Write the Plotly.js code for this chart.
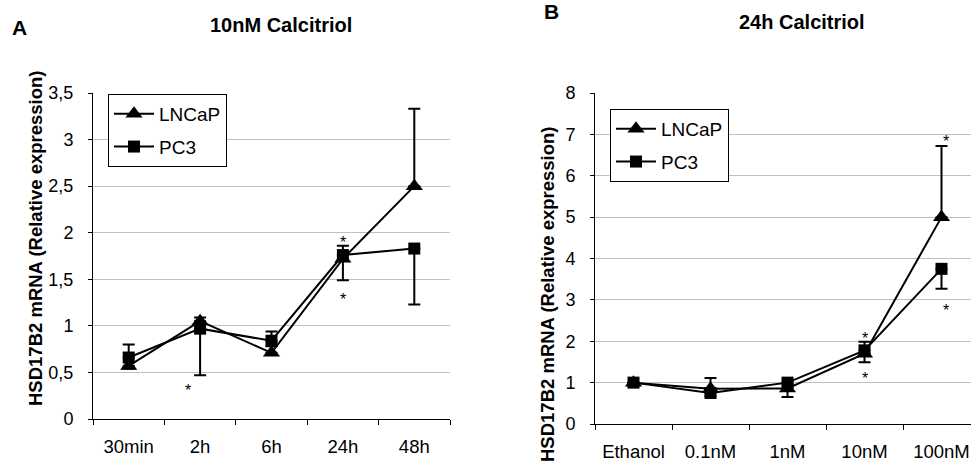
<!DOCTYPE html>
<html>
<head>
<meta charset="utf-8">
<script src="https://cdn.plot.ly/plotly-3.0.1.min.js"></script>
<style>
  html, body { margin: 0; padding: 0; overflow: hidden; background: #fff; }
  #chart { width: 990px; height: 465px; }
</style>
</head>
<body>
<div id="chart"></div>
<script>
// ---- Data ----
const categoriesA = ['30min', '2h', '6h', '24h', '48h'];
const lncapA = [0.57, 1.05, 0.71, 1.72, 2.50];
const lncapA_errPlus = [0.23, 0.04, 0.23, 0.14, 0.83];
const pc3A = [0.66, 0.97, 0.84, 1.76, 1.83];
const pc3A_errMinus = [0.12, 0.50, 0.06, 0.27, 0.60];

const categoriesB = ['Ethanol', '0.1nM', '1nM', '10nM', '100nM'];
const lncapB = [1.00, 0.85, 0.86, 1.70, 5.00];
const lncapB_errPlus = [0.00, 0.26, 0.10, 0.29, 1.72];
const pc3B = [1.00, 0.75, 1.00, 1.78, 3.75];
const pc3B_errMinus = [0.00, 0.08, 0.35, 0.29, 0.48];

// significance asterisks: category, y value
const starsA_cat = ['2h', '24h', '24h'];
const starsA_y = [0.35, 1.94, 1.33];
const starsA_shift = [-12, 0, 0];
const starsB_cat = ['10nM', '10nM', '100nM', '100nM'];
const starsB_y = [2.16, 1.19, 6.93, 2.84];
const starsB_shift = [0, 0, 4, 4];

const panelTitles = ['10nM Calcitriol', '24h Calcitriol'];
const panelLetters = ['A', 'B'];
const yTitle = 'HSD17B2 mRNA (Relative expression)';
const seriesNames = ['LNCaP', 'PC3'];

// ---- Figure ----
const W = 990, H = 465;
const px = v => v / W;
const py = v => (H - v) / H;

const FONT = 'Arial, "Liberation Sans", sans-serif';

function lineTrace(name, cats, vals, err, plus, symbol, size, xa, ya, leg, grp) {
  return {
    type: 'scatter', mode: 'lines+markers', name: name,
    x: cats, y: vals, xaxis: xa, yaxis: ya, legend: leg, legendgroup: grp,
    line: { color: '#000', width: 2 },
    marker: { color: '#000', symbol: symbol, size: size },
    error_y: plus
      ? { type: 'data', symmetric: false, array: err, arrayminus: err.map(() => 0), color: '#000', thickness: 2, width: 6 }
      : { type: 'data', symmetric: false, array: err.map(() => 0), arrayminus: err, color: '#000', thickness: 2, width: 6 },
    hoverinfo: 'x+y+name'
  };
}

const data = [
  lineTrace(seriesNames[0], categoriesA, lncapA, lncapA_errPlus, true, 'triangle-up', 15, 'x', 'y', 'legend', 'a1'),
  lineTrace(seriesNames[1], categoriesA, pc3A, pc3A_errMinus, false, 'square', 12, 'x', 'y', 'legend', 'a2'),
  lineTrace(seriesNames[0], categoriesB, lncapB, lncapB_errPlus, true, 'triangle-up', 15, 'x2', 'y2', 'legend2', 'b1'),
  lineTrace(seriesNames[1], categoriesB, pc3B, pc3B_errMinus, false, 'square', 12, 'x2', 'y2', 'legend2', 'b2')
];

const xBase = {
  type: 'category', tickson: 'boundaries', ticks: 'outside', ticklen: 5, tickwidth: 1, tickcolor: '#000',
  showline: true, linecolor: '#000', linewidth: 1, showgrid: false, zeroline: false,
  tickfont: { family: FONT, size: 18.5, color: '#000' }, ticklabelstandoff: 11,
  range: [-0.5, 4.5], automargin: false, fixedrange: true
};
const yBase = {
  ticks: 'outside', ticklen: 4, tickwidth: 1, tickcolor: '#000',
  showline: true, linecolor: '#000', linewidth: 1, showgrid: true, gridcolor: '#c0c0c0', gridwidth: 1,
  zeroline: false, tickfont: { family: FONT, size: 18, color: '#000' }, ticklabelstandoff: 11,
  automargin: false, fixedrange: true
};

const legendBase = {
  xanchor: 'left', yanchor: 'top', bordercolor: '#000', borderwidth: 1, bgcolor: '#fff',
  font: { family: FONT, size: 19, color: '#000' }, traceorder: 'grouped', tracegroupgap: 5,
  itemwidth: 40
};

const annotations = [];
function addText(text, x, y, size, bold, extra) {
  annotations.push(Object.assign({
    text: bold ? '<b>' + text + '</b>' : text, xref: 'paper', yref: 'paper',
    x: px(x), y: py(y), xanchor: 'center', yanchor: 'middle', showarrow: false,
    font: { family: FONT, size: size, color: '#000' }
  }, extra || {}));
}
addText(panelLetters[0], 19.5, 27, 21, true);
addText(panelLetters[1], 551.5, 11, 21, true);
addText(panelTitles[0], 281, 25, 20, true);
addText(panelTitles[1], 802, 22, 20, true);
addText(yTitle, 35, 238, 18.5, true, { textangle: -90 });
addText(yTitle, 547, 294, 18.5, true, { textangle: -90 });

starsA_cat.forEach((c, i) => annotations.push({
  text: '*', xref: 'x', yref: 'y', x: c, y: starsA_y[i], xshift: starsA_shift[i], yshift: -4,
  showarrow: false, font: { family: FONT, size: 16, color: '#000' }
}));
starsB_cat.forEach((c, i) => annotations.push({
  text: '*', xref: 'x2', yref: 'y2', x: c, y: starsB_y[i], xshift: starsB_shift[i], yshift: -4,
  showarrow: false, font: { family: FONT, size: 16, color: '#000' }
}));

const layout = {
  width: W, height: H,
  margin: { l: 0, r: 0, t: 0, b: 0 },
  paper_bgcolor: '#fff', plot_bgcolor: '#fff',
  separators: ', ',
  showlegend: true,
  font: { family: FONT, color: '#000' },
  xaxis: Object.assign({}, xBase, { domain: [px(93), px(450)], anchor: 'y', categoryarray: categoriesA, categoryorder: 'array' }),
  yaxis: Object.assign({}, yBase, { domain: [py(419), py(93)], anchor: 'x', range: [0, 3.5], dtick: 0.5, tick0: 0 }),
  xaxis2: Object.assign({}, xBase, { domain: [px(595), px(980)], anchor: 'y2', categoryarray: categoriesB, categoryorder: 'array' }),
  yaxis2: Object.assign({}, yBase, { domain: [py(424), py(93)], anchor: 'x2', range: [0, 8], dtick: 1, tick0: 0 }),
  legend: Object.assign({}, legendBase, { x: px(108), y: py(94) }),
  legend2: Object.assign({}, legendBase, { x: px(610), y: py(109) }),
  annotations: annotations
};

Plotly.newPlot('chart', data, layout, { displayModeBar: false, staticPlot: true });
</script>
</body>
</html>
